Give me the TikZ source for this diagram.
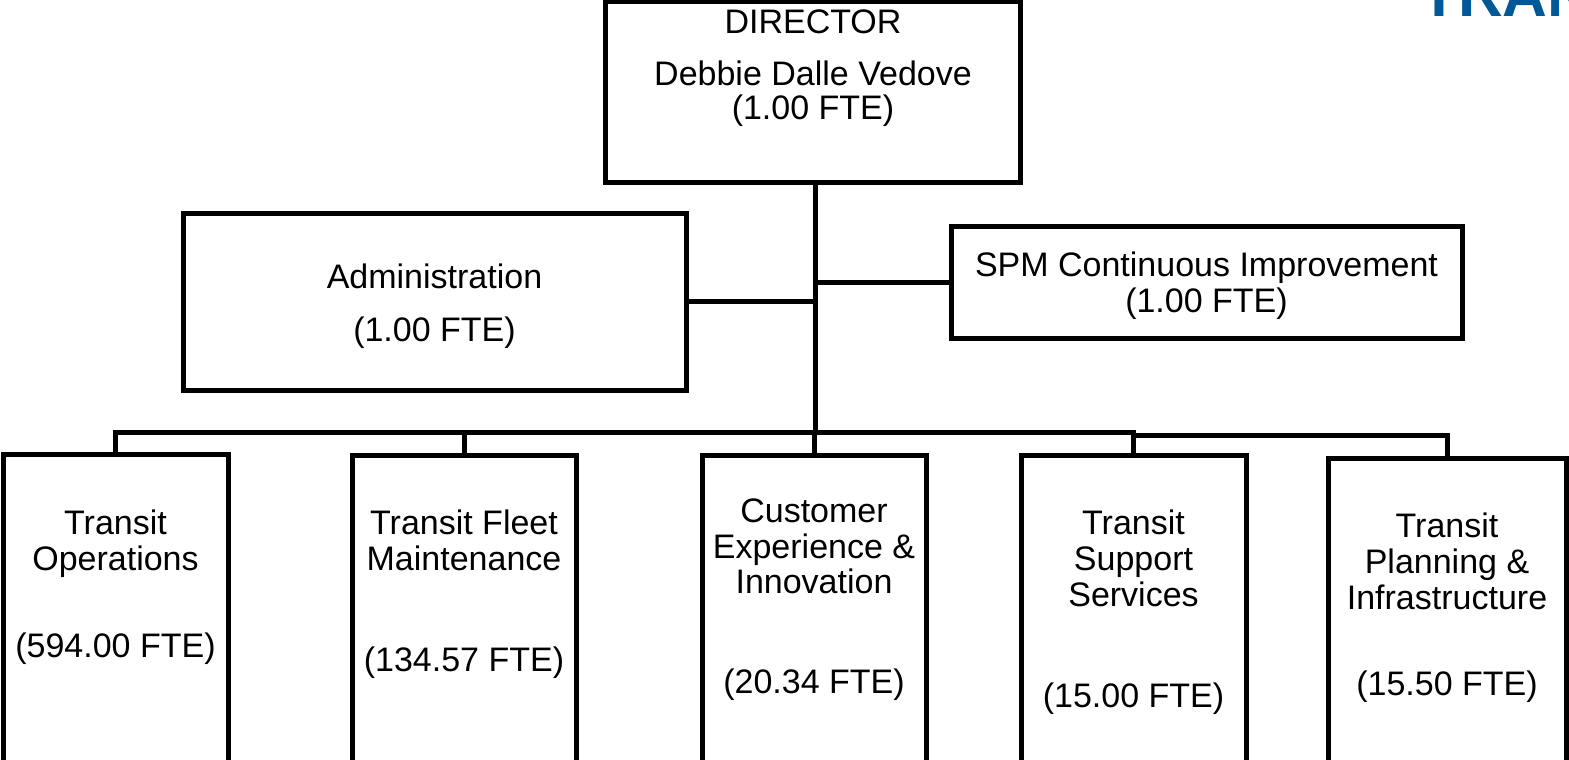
\documentclass[tikz,border=0pt]{standalone}
\usepackage{fontspec}
\setmainfont{Liberation Sans}
\definecolor{brandblue}{RGB}{0,88,150}
\begin{document}
\begin{tikzpicture}[x=1pt,y=-1pt,
  box/.style={draw, line width=5pt, rectangle, inner sep=0pt, outer sep=0pt},
  lbl/.style={anchor=base, inner sep=0pt, font=\fontsize{34}{36}\selectfont},
  wire/.style={line width=5pt}]
\useasboundingbox (0,0) rectangle (1569,760);
\clip (0,0) rectangle (1569,760);
% logo fragment
\node[anchor=base west, inner sep=0pt, text=brandblue, font=\fontsize{62}{62}\selectfont\bfseries] (logo) at (1420,17) {TRANSIT};
% boxes
\node[box, minimum width=415pt, minimum height=180pt] (dir) at (813,92) {};
\node[box, minimum width=503pt, minimum height=177pt] (adm) at (434.5,301.5) {};
\node[box, minimum width=511pt, minimum height=112pt] (spm) at (1206.5,282) {};
\node[box, minimum width=225pt, minimum height=366pt] (ops) at (115.5,637) {};
\node[box, minimum width=224pt, minimum height=366pt] (flt) at (464,638) {};
\node[box, minimum width=224pt, minimum height=366pt] (cus) at (814,638) {};
\node[box, minimum width=225pt, minimum height=366pt] (sup) at (1133.5,638) {};
\node[box, minimum width=238pt, minimum height=366pt] (pln) at (1447,641) {};
% texts
\node[lbl] (dir1) at (813,34) {DIRECTOR};
\node[lbl] (dir2) at (813,85) {Debbie Dalle Vedove};
\node[lbl] (dir3) at (813,119) {(1.00 FTE)};
\node[lbl] (adm1) at (434.5,288) {Administration};
\node[lbl] (adm2) at (434.5,341) {(1.00 FTE)};
\node[lbl] (spm1) at (1206.5,276) {SPM Continuous Improvement};
\node[lbl] (spm2) at (1206.5,312) {(1.00 FTE)};
\node[lbl] (ops1) at (115.5,534) {Transit};
\node[lbl] (ops2) at (115.5,570) {Operations};
\node[lbl] (ops3) at (115.5,657) {(594.00 FTE)};
\node[lbl] (flt1) at (464,534) {Transit Fleet};
\node[lbl] (flt2) at (464,570) {Maintenance};
\node[lbl] (flt3) at (464,671) {(134.57 FTE)};
\node[lbl] (cus1) at (814,522) {Customer};
\node[lbl] (cus2) at (814,558) {Experience \&};
\node[lbl] (cus3) at (814,593) {Innovation};
\node[lbl] (cus4) at (814,693) {(20.34 FTE)};
\node[lbl] (sup1) at (1133.5,534) {Transit};
\node[lbl] (sup2) at (1133.5,570) {Support};
\node[lbl] (sup3) at (1133.5,606) {Services};
\node[lbl] (sup4) at (1133.5,707) {(15.00 FTE)};
\node[lbl] (pln1) at (1447,537) {Transit};
\node[lbl] (pln2) at (1447,573) {Planning \&};
\node[lbl] (pln3) at (1447,609) {Infrastructure};
\node[lbl] (pln4) at (1447,695) {(15.50 FTE)};
% connectors
\coordinate (bus) at (815,432);
\coordinate (bus2) at (1133.5,435);
\draw[wire] (dir.south -| bus) -- (bus);
\draw[wire] (adm.east) -- (adm.east -| bus);
\draw[wire] (spm.west) -- (spm.west -| bus);
\draw[wire] (ops.north) -- (ops.north |- bus) -- (sup.north |- bus) -- (sup.north);
\draw[wire] (flt.north) -- (flt.north |- bus);
\draw[wire] (cus.north) -- (cus.north |- bus);
\draw[wire] (bus2) -- (pln.north |- bus2) -- (pln.north);
\end{tikzpicture}
\end{document}
